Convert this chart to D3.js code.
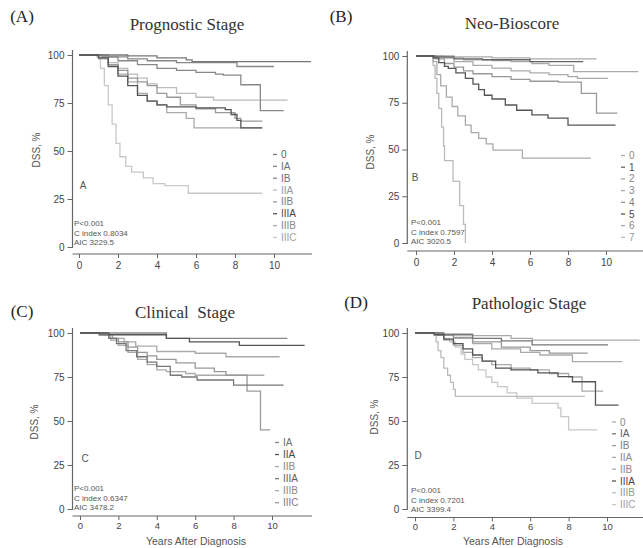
<!DOCTYPE html>
<html>
<head>
<meta charset="utf-8">
<script src="https://cdn.jsdelivr.net/npm/d3@7"></script>
<style>
  body { margin: 0; background: #fff; }
  svg { display: block; }
</style>
</head>
<body>
<svg id="chart" width="643" height="548"></svg>
<script>
// shared ticks
const yearTicks = [0, 2, 4, 6, 8, 10];
const survTicks = [0, 25, 50, 75, 100];

// (A) prognostic stage: each curve is [years, DSS %] steps, last point = end of follow-up
const prognosticStages = ["0", "IA", "IB", "IIA", "IIB", "IIIA", "IIIB", "IIIC"];
const prognosticCurves = [
    [[0, 100], [2.5, 99.5], [4, 98.5], [5.5, 97.5], [5.8, 96.5], [11.9, 96.5]],
    [[0, 100], [1.5, 99], [2.5, 98], [3.5, 97], [5, 96], [8.1, 94], [10, 94]],
    [[0, 100], [1.2, 99], [2, 97], [3, 95], [4, 93], [5, 92], [6, 91], [7, 90], [7.4, 89.5], [8.3, 84.5], [9.3, 71], [10.5, 71]],
    [[0, 100], [1, 99], [1.5, 96], [2, 93], [2.5, 90], [3, 88], [3.5, 85], [4, 83], [5, 80], [6, 78], [6.9, 76.5], [10.7, 76.5]],
    [[0, 100], [1, 98.5], [1.5, 95], [2, 92], [2.5, 88], [3, 86], [3.5, 84], [4, 80], [4.5, 78], [5.2, 74], [6, 72], [7, 70], [8, 67], [8.3, 65.6], [9.4, 65.6]],
    [[0, 100], [1, 98.5], [1.5, 94], [2, 89], [2.5, 84], [3, 79], [3.5, 76], [4, 74], [4.5, 73], [6, 72.5], [7.5, 71.5], [7.8, 69], [8.1, 66], [8.3, 62], [9.4, 62]],
    [[0, 100], [1, 98], [1.5, 95], [2, 90], [2.5, 86], [3, 80], [3.5, 76], [4, 74], [4.5, 70], [5.5, 67], [5.9, 62], [9.4, 62]],
    [[0, 100], [0.9, 99], [1.1, 93], [1.3, 84], [1.5, 74], [1.7, 64], [1.9, 54], [2.1, 47], [2.4, 42], [2.7, 39], [3.3, 36], [3.8, 33], [4.4, 32], [5.6, 28], [9.4, 28]]
];
const prognosticStats = ["P<0.001", "C index 0.8034", "AIC 3229.5"];

// (B) neo-bioscore
const bioscoreGroups = ["0", "1", "2", "3", "4", "5", "6", "7"];
const bioscoreCurves = [
    [[0, 100], [2, 99.5], [4, 99], [6, 98.5], [9.5, 98.5]],
    [[0, 100], [1, 99.5], [2, 98.5], [3.5, 98], [6, 97], [8.8, 97]],
    [[0, 100], [1.5, 99], [2.5, 98], [4, 97.5], [5, 97], [6.1, 96], [7, 95], [8.3, 91.6], [11.7, 91.6]],
    [[0, 100], [1, 99], [2, 97], [3, 95], [4, 93.5], [5, 92], [6, 91], [7, 90], [8, 89], [8.5, 88], [10.1, 88]],
    [[0, 100], [1, 98.5], [1.5, 96], [2, 94], [2.5, 92], [3, 90.5], [4, 89], [5, 87.5], [6, 86.5], [7.5, 86], [8.7, 80], [9.5, 69.5], [10.6, 69.5]],
    [[0, 100], [0.9, 99], [1.2, 96.5], [1.5, 94.5], [1.7, 93.4], [2.1, 91], [2.6, 88], [3, 85], [3.3, 82], [3.6, 79], [4, 77], [4.7, 73.8], [5.3, 71], [6.1, 68.5], [6.95, 66.8], [8, 63], [10.5, 63]],
    [[0, 100], [0.9, 97], [1.1, 90], [1.3, 84], [1.6, 78], [1.9, 73], [2.2, 68], [2.6, 63], [2.9, 59], [3.3, 56], [3.7, 53], [4.05, 49.7], [5.6, 45.4], [9.2, 45.4]],
    [[0, 100], [0.9, 95], [1, 88], [1.1, 80], [1.2, 72], [1.35, 62], [1.45, 52], [1.5, 44], [1.95, 33], [2.3, 20], [2.5, 10], [2.6, 0]]
];
const bioscoreStats = ["P<0.001", "C index 0.7597", "AIC 3020.5"];

// (C) clinical stage
const clinicalStages = ["IA", "IIA", "IIB", "IIIA", "IIIB", "IIIC"];
const clinicalCurves = [
    [[0, 100], [4.5, 97], [10.8, 97]],
    [[0, 100], [1.5, 99], [4.5, 97], [5.7, 95], [8.3, 93], [11.7, 93]],
    [[0, 100], [1.2, 99], [1.7, 97], [2.3, 95], [2.9, 92.5], [4, 89.5], [6, 88.5], [7.6, 86.5], [10.4, 86.5]],
    [[0, 100], [1, 99], [1.5, 97], [1.9, 94], [2.4, 90], [2.95, 86.5], [3.5, 83.5], [4, 81], [4.7, 76], [5.3, 75], [6.1, 73.3], [8, 70.4], [10.6, 70.4]],
    [[0, 100], [1.1, 99], [1.6, 96], [2, 93], [2.5, 89], [3, 85], [3.5, 82], [4, 79], [4.5, 78], [5.5, 77], [6, 76], [9.6, 76]],
    [[0, 100], [1, 99], [1.5, 97], [2, 95], [2.5, 92], [3, 89], [3.5, 87], [4, 85], [5, 83], [6, 80], [7, 78], [7.6, 76], [8.7, 67], [9.4, 45], [9.9, 45]]
];
const clinicalStats = ["P<0.001", "C index 0.6347", "AIC 3478.2"];

// (D) pathologic stage
const pathologicStages = ["0", "IA", "IB", "IIA", "IIB", "IIIA", "IIIB", "IIIC"];
const pathologicCurves = [
    [[0, 100], [1.5, 99.5], [3, 98.5], [5, 97], [6.1, 96], [11.7, 96]],
    [[0, 100], [1.5, 99], [3, 97], [4.5, 95.5], [6.1, 93.2], [10.05, 93.2]],
    [[0, 100], [1.2, 99], [2, 97.5], [3, 95], [4.5, 92], [6, 90], [7, 88.6], [9, 88.6]],
    [[0, 100], [1.2, 99], [2, 97], [3, 94], [4, 91], [5.5, 89], [6.5, 87.5], [8.2, 83.7], [10.8, 83.7]],
    [[0, 100], [1, 99], [1.5, 96], [2, 93], [2.5, 89], [3, 86], [3.5, 84], [4, 82], [5, 80], [6, 79], [7, 77], [8, 75], [8.7, 67], [9.8, 67]],
    [[0, 100], [1, 99], [1.5, 96.5], [2, 94], [2.5, 91], [3, 87.5], [3.5, 84], [4.2, 80], [5, 79], [6.4, 77.3], [7.45, 75.2], [8.2, 72.3], [9.4, 59], [10.6, 59]],
    [[0, 100], [1.1, 95], [1.2, 90], [1.35, 86], [1.5, 80], [1.7, 76], [1.85, 72], [2, 68], [2.1, 64], [8.85, 64]],
    [[0, 100], [1.2, 99], [1.5, 97], [1.8, 95], [2.1, 92], [2.4, 88], [2.6, 85], [3, 82], [3.3, 79], [3.7, 75], [4, 72], [4.3, 69.5], [4.8, 66], [5.3, 63], [6.1, 60], [7.45, 57.4], [7.6, 52.5], [8, 45], [9.5, 45]]
];
const pathologicStats = ["P<0.001", "C index 0.7201", "AIC 3399.4"];

const panels = [
    {
        tag: "(A)", tagX: 22, tagY: 22, title: "Prognostic Stage", titleX: 187, titleY: 30,
        x0: 79, ppy: 19.5, axisL: 72.5, axisR: 312, baseY: 254, y100: 55, y0: 247,
        ylabX: 40, ylabY: 150, letter: "A", letterX: 83, letterY: 189,
        statX: 74, statY: 226, legX: 273, legY: 154.5, legStep: 11.85,
        names: prognosticStages, curves: prognosticCurves, stats: prognosticStats,
        shades: ["#777", "#888", "#888", "#bbb", "#999", "#555", "#aaa", "#c8c8c8"], xlab: false
    },
    {
        tag: "(B)", tagX: 341, tagY: 22, title: "Neo-Bioscore", titleX: 512, titleY: 29,
        x0: 416, ppy: 19, axisL: 407.3, axisR: 643, baseY: 251, y100: 56, y0: 243,
        ylabX: 374, ylabY: 152, letter: "B", letterX: 415, letterY: 181,
        statX: 411, statY: 225, legX: 621, legY: 155.5, legStep: 11.7,
        names: bioscoreGroups, curves: bioscoreCurves, stats: bioscoreStats,
        shades: ["#aaa", "#666", "#aaa", "#aaa", "#999", "#555", "#aaa", "#bbb"], xlab: false
    },
    {
        tag: "(C)", tagX: 22, tagY: 317, title: "Clinical  Stage", titleX: 185, titleY: 318,
        x0: 80, ppy: 19.2, axisL: 72.5, axisR: 312, baseY: 516, y100: 333, y0: 509,
        ylabX: 38, ylabY: 422, letter: "C", letterX: 85, letterY: 462,
        statX: 74, statY: 491, legX: 275, legY: 442.5, legStep: 12.05,
        names: clinicalStages, curves: clinicalCurves, stats: clinicalStats,
        shades: ["#888", "#555", "#aaa", "#777", "#aaa", "#999"], xlab: true, xlabX: 196
    },
    {
        tag: "(D)", tagX: 356, tagY: 308, title: "Pathologic Stage", titleX: 529, titleY: 309,
        x0: 415, ppy: 19.2, axisL: 407.3, axisR: 643, baseY: 517.5, y100: 333, y0: 509,
        ylabX: 378, ylabY: 417, letter: "D", letterX: 418, letterY: 459,
        statX: 411, statY: 493, legX: 612, legY: 422, legStep: 11.8,
        names: pathologicStages, curves: pathologicCurves, stats: pathologicStats,
        shades: ["#aaa", "#777", "#999", "#aaa", "#aaa", "#555", "#bbb", "#c8c8c8"], xlab: true, xlabX: 513
    }
];

const svg = d3.select('#chart');
const sans = "Liberation Sans, Arial, sans-serif";
const serif = "Liberation Serif, Times New Roman, serif";

function drawPanel(p) {
    const g = svg.append('g');
    const x = d3.scaleLinear().domain([0, 12]).range([p.x0, p.x0 + 12 * p.ppy]);
    const y = d3.scaleLinear().domain([0, 100]).range([p.y0, p.y100]);

    // headings
    g.append('text').attr('x', p.tagX).attr('y', p.tagY)
        .attr('text-anchor', 'middle').style('font', `17px ${serif}`).attr('fill', '#222')
        .text(p.tag);
    g.append('text').attr('x', p.titleX).attr('y', p.titleY)
        .attr('text-anchor', 'middle').style('font', `17px ${serif}`).attr('fill', '#333')
        .style('white-space', 'pre')
        .text(p.title);

    // axes (bottom panels keep their tick labels a bit tighter, the axis title sits under them)
    const xAxis = g.append('g')
        .attr('transform', `translate(0,${p.baseY})`)
        .call(d3.axisBottom(x).tickValues(yearTicks).tickSize(4).tickPadding(p.xlab ? 2 : 4));
    const yAxis = g.append('g')
        .attr('transform', `translate(${p.axisL},0)`)
        .call(d3.axisLeft(y).tickValues(survTicks).tickSize(5).tickPadding(3));
    [xAxis, yAxis].forEach(a => {
        a.select('.domain').remove();
        a.selectAll('line').attr('stroke', '#666');
        a.selectAll('text').attr('fill', '#444').style('font', `10px ${sans}`);
    });
    if (p.xlab) xAxis.selectAll('text').style('font-size', '9.5px');
    g.append('line')
        .attr('x1', p.axisL).attr('x2', p.axisR)
        .attr('y1', p.baseY).attr('y2', p.baseY)
        .attr('stroke', '#666').attr('stroke-width', 1.2);
    g.append('line')
        .attr('x1', p.axisL).attr('x2', p.axisL)
        .attr('y1', y(100) - 5).attr('y2', y(0) + 1)
        .attr('stroke', '#666').attr('stroke-width', 1.2);

    g.append('text')
        .attr('transform', `translate(${p.ylabX},${p.ylabY}) rotate(-90)`)
        .attr('text-anchor', 'middle').style('font', `10px ${sans}`).attr('fill', '#555')
        .text('DSS, %');

    if (p.xlab) {
        g.append('text').attr('x', p.xlabX).attr('y', 545)
            .attr('text-anchor', 'middle').style('font', `10.5px ${sans}`).attr('fill', '#555')
            .text('Years After Diagnosis');
    }

    // curves, lighter ones first so the dark ones sit on top
    const line = d3.line()
        .x(d => x(d[0]))
        .y(d => y(d[1]))
        .curve(d3.curveStepAfter);
    const order = d3.range(p.curves.length)
        .sort((a, b) => d3.hsl(p.shades[b]).l - d3.hsl(p.shades[a]).l);
    g.append('g').selectAll('path')
        .data(order)
        .join('path')
        .attr('d', i => line(p.curves[i]))
        .attr('fill', 'none')
        .attr('stroke', i => p.shades[i])
        .attr('stroke-width', 1.3);

    // panel letter + stats
    g.append('text').attr('x', p.letterX).attr('y', p.letterY)
        .attr('text-anchor', 'middle').style('font', `10px ${sans}`).attr('fill', '#555')
        .text(p.letter);
    g.append('g').selectAll('text')
        .data(p.stats)
        .join('text')
        .attr('x', p.statX)
        .attr('y', (d, i) => p.statY + i * 9.5)
        .style('font', `8px ${sans}`).attr('fill', '#555')
        .text(d => d);

    // legend
    const leg = g.append('g').selectAll('g')
        .data(p.names)
        .join('g')
        .attr('transform', (d, i) => `translate(${p.legX},${p.legY + i * p.legStep})`);
    leg.append('line')
        .attr('x1', 0).attr('x2', 4)
        .attr('stroke', (d, i) => p.shades[i]).attr('stroke-width', 1.3);
    leg.append('text')
        .attr('x', 8).attr('dy', '0.35em')
        .style('font', `10px ${sans}`)
        .attr('fill', (d, i) => d3.color(p.shades[i]).darker(0.6))
        .text(d => d);
}

panels.forEach(drawPanel);
</script>
</body>
</html>
